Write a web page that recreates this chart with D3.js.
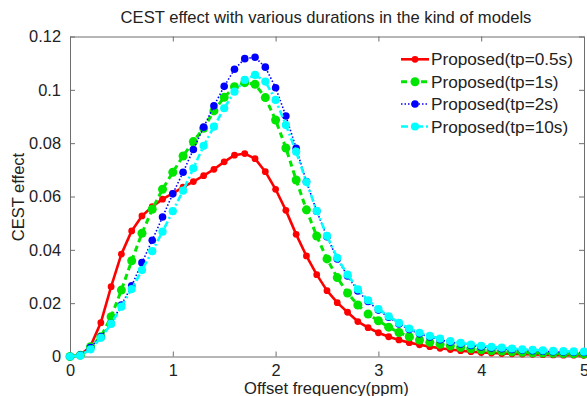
<!DOCTYPE html>
<html>
<head>
<meta charset="utf-8">
<script src="https://cdn.jsdelivr.net/npm/d3@7"></script>
<style>
  html, body { margin: 0; padding: 0; background: #fff; }
  svg { display: block; }
  text { font-family: "Liberation Sans", Arial, sans-serif; fill: #222; }
</style>
</head>
<body>
<svg id="chart" width="587" height="396"></svg>
<script>
const offsets = [0.0,0.1,0.2,0.3,0.4,0.5,0.6,0.7,0.8,0.9,1.0,1.1,1.2,1.3,1.4,1.5,1.6,1.7,1.8,1.9,2.0,
  2.1,2.2,2.3,2.4,2.5,2.6,2.7,2.8,2.9,3.0,3.1,3.2,3.3,3.4,3.5,3.6,3.7,3.8,3.9,4.0,
  4.1,4.2,4.3,4.4,4.5,4.6,4.7,4.8,4.9,5.0];

const tp05 = [0,0.0005,0.0039,0.0127,0.0262,0.0384,0.0471,0.0527,0.0562,0.0590,0.0612,
  0.0635,0.0656,0.0678,0.0702,0.0730,0.0755,0.0761,0.0742,0.0693,0.0627,
  0.0548,0.0458,0.0377,0.0307,0.0247,0.0202,0.0166,0.0131,0.0108,0.0089,
  0.0074,0.0062,0.0052,0.0044,0.0037,0.0031,0.0026,0.0022,0.0018,0.0015,
  0.0013,0.0011,0.0010,0.0009,0.0008,0.0007,0.0006,0.0005,0.0005,0.0004];

const tp1 = [0,0.0005,0.0037,0.0074,0.0149,0.0249,0.0359,0.0462,0.0552,0.0627,0.0691,
  0.0752,0.0806,0.0856,0.0921,0.0972,0.1012,0.1027,0.1021,0.0971,0.0887,
  0.0782,0.0662,0.0550,0.0452,0.0366,0.0296,0.0238,0.0193,0.0159,0.0134,
  0.0110,0.0090,0.0074,0.0062,0.0053,0.0046,0.0040,0.0034,0.0029,0.0025,
  0.0022,0.0020,0.0018,0.0016,0.0014,0.0013,0.0012,0.0011,0.0010,0.0009];

const tp2 = [0,0.0005,0.0034,0.0074,0.0124,0.0193,0.0265,0.0352,0.0436,0.0523,0.0610,
  0.0691,0.0776,0.0860,0.0940,0.1013,0.1077,0.1117,0.1122,0.1085,0.1008,
  0.0902,0.0781,0.0656,0.0545,0.0449,0.0366,0.0302,0.0246,0.0206,0.0174,
  0.0147,0.0122,0.0101,0.0085,0.0073,0.0063,0.0054,0.0047,0.0041,0.0036,
  0.0032,0.0029,0.0026,0.0024,0.0022,0.0020,0.0018,0.0017,0.0016,0.0015];

const tp10 = [0,0.0003,0.0027,0.0070,0.0122,0.0187,0.0253,0.0324,0.0395,0.0468,0.0545,
  0.0622,0.0706,0.0790,0.0862,0.0931,0.0993,0.1037,0.1056,0.1031,0.0962,
  0.0868,0.0768,0.0654,0.0546,0.0452,0.0370,0.0307,0.0252,0.0211,0.0178,
  0.0151,0.0126,0.0105,0.0089,0.0077,0.0067,0.0058,0.0051,0.0045,0.0040,
  0.0036,0.0033,0.0030,0.0027,0.0025,0.0023,0.0021,0.0020,0.0019,0.0018];

const seriesNames = ["Proposed(tp=0.5s)","Proposed(tp=1s)","Proposed(tp=2s)","Proposed(tp=10s)"];
const xTicks = [0,1,2,3,4,5];
const yTicks = [0,0.02,0.04,0.06,0.08,0.1,0.12];
const titleText = "CEST effect with various durations in the kind of models";
const xLabel = "Offset frequency(ppm)";
const yLabel = "CEST effect";

const styles = [
  {color:"#ff0000", width:2.6, dash:null, r:3.4},
  {color:"#00e600", width:3, dash:"6,4", r:4.5},
  {color:"#0000ff", width:1.6, dash:"1.5,2", r:3.8},
  {color:"#00ffff", width:2.6, dash:"7,3,2,3", r:4.1}
];
const seriesValues = [tp05, tp1, tp2, tp10];

const svg = d3.select("#chart");
const L = 70, R = 584, T = 36.5, B = 356.5;
const x = d3.scaleLinear().domain([0,5]).range([L,R]);
const y = d3.scaleLinear().domain([0,0.12]).range([B,T]);
const fmt = d => d === 0 ? "0" : String(+d.toFixed(2));

const axisColor = "#6e6e6e";
const gBottom = svg.append("g").attr("transform",`translate(0,${B})`)
  .call(d3.axisBottom(x).tickValues(xTicks).tickSizeInner(-5).tickSizeOuter(0).tickPadding(8).tickFormat(fmt));
const gTop = svg.append("g").attr("transform",`translate(0,${T})`)
  .call(d3.axisTop(x).tickValues(xTicks).tickSizeInner(-5).tickSizeOuter(0).tickFormat(""));
const gLeft = svg.append("g").attr("transform",`translate(${L},0)`)
  .call(d3.axisLeft(y).tickValues(yTicks).tickSizeInner(-5).tickSizeOuter(0).tickPadding(9).tickFormat(fmt));
const gRight = svg.append("g").attr("transform",`translate(${R},0)`)
  .call(d3.axisRight(y).tickValues(yTicks).tickSizeInner(-5).tickSizeOuter(0).tickFormat(""));
[gBottom, gTop, gLeft, gRight].forEach(g => {
  g.selectAll("path.domain").attr("stroke", axisColor).attr("stroke-width",1);
  g.selectAll(".tick line").attr("stroke", axisColor);
  g.selectAll(".tick text").attr("fill","#222").style("font-size","16.4px")
   .style("font-family","'Liberation Sans', Arial, sans-serif");
});
gBottom.selectAll(".tick text").attr("dy","0.71em");

const line = d3.line().x((d,i) => x(offsets[i])).y(d => y(d));
seriesValues.forEach((vals, k) => {
  const st = styles[k];
  const g = svg.append("g");
  g.append("path").datum(vals).attr("d", line).attr("fill","none")
    .attr("stroke", st.color).attr("stroke-width", st.width)
    .attr("stroke-dasharray", st.dash).attr("stroke-linejoin","round");
  g.selectAll("circle").data(vals).join("circle")
    .attr("cx",(d,i) => x(offsets[i])).attr("cy", d => y(d)).attr("r", st.r)
    .attr("fill", st.color);
});

const lg = svg.append("g");
const legendY = [59.3, 81.8, 104, 126.5];
seriesNames.forEach((name, k) => {
  const st = styles[k];
  const yy = legendY[k];
  lg.append("line").attr("x1",401).attr("x2",429).attr("y1",yy).attr("y2",yy)
    .attr("stroke",st.color).attr("stroke-width",st.width).attr("stroke-dasharray",st.dash);
  lg.append("circle").attr("cx",415).attr("cy",yy).attr("r",st.r).attr("fill",st.color);
  lg.append("text").attr("x",431).attr("y",yy+6).style("font-size","17.2px").text(name);
});

svg.append("text").attr("x",326).attr("y",22.5).attr("text-anchor","middle")
  .style("font-size","16.6px").text(titleText);
svg.append("text").attr("x",326.5).attr("y",393.5).attr("text-anchor","middle")
  .style("font-size","16.6px").text(xLabel);
svg.append("text").attr("transform","translate(24,197) rotate(-90)").attr("text-anchor","middle")
  .style("font-size","16.5px").text(yLabel);
</script>
</body>
</html>
